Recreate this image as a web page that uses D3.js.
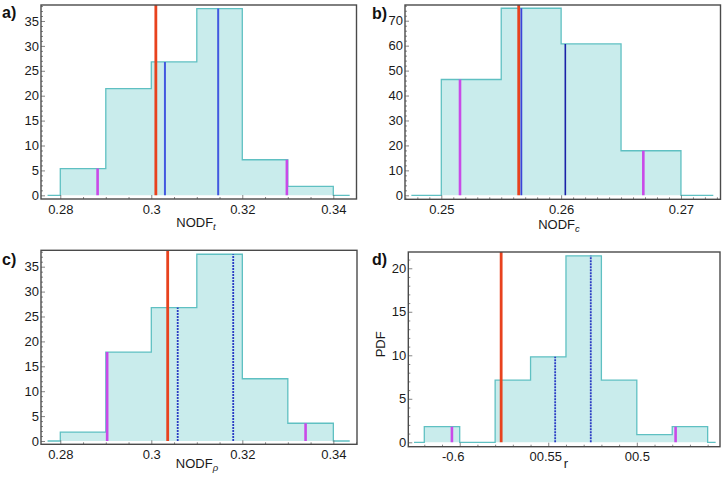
<!DOCTYPE html>
<html>
<head>
<meta charset="utf-8">
<script src="https://cdn.jsdelivr.net/npm/d3@7"></script>
<style>
  html, body { margin: 0; padding: 0; background: #fff; }
  svg { display: block; font-family: "Liberation Sans", Arial, Helvetica, sans-serif; }
</style>
</head>
<body>
<svg id="chart" width="728" height="482"></svg>
<script>
// ---------------- DATA ----------------
// a) NODF_t
const edgesA = [0.2772, 0.28, 0.29, 0.30, 0.31, 0.32, 0.33, 0.34, 0.3436];
const pdfA   = [0, 5.36, 21.43, 26.79, 37.5, 7.14, 1.79, 0];
const redA = 0.3010;
const blueA = [0.3030, 0.3147];
const magentaA = [0.2882, 0.3298];
const xTicksA = [0.28, 0.30, 0.32, 0.34];
const xLabelsA = ["0.28", "0.3", "0.32", "0.34"];
const yTicksA = [0, 5, 10, 15, 20, 25, 30, 35];

// b) NODF_c
const edgesB = [0.2475, 0.25, 0.255, 0.26, 0.265, 0.27, 0.2727];
const pdfB   = [0, 46.43, 75, 60.71, 17.86, 0];
const redB = 0.25646;
const blueB = [0.25668, 0.26035];
const magentaB = [0.25156, 0.26686];
const xTicksB = [0.25, 0.26, 0.27];
const xLabelsB = ["0.25", "0.26", "0.27"];
const yTicksB = [0, 10, 20, 30, 40, 50, 60, 70];

// c) NODF_rho
const edgesC = [0.2772, 0.28, 0.29, 0.30, 0.31, 0.32, 0.33, 0.34, 0.3436];
const pdfC   = [0, 1.79, 17.86, 26.79, 37.5, 12.5, 3.57, 0];
const redC = 0.3036;
const blueC = [0.3058, 0.3180];
const magentaC = [0.2903, 0.3339];
const xTicksC = [0.28, 0.30, 0.32, 0.34];
const xLabelsC = ["0.28", "0.3", "0.32", "0.34"];
const yTicksC = [0, 5, 10, 15, 20, 25, 30, 35];

// d) r
const edgesD = [-0.6258, -0.62, -0.60, -0.58, -0.56, -0.54, -0.52, -0.50, -0.48, -0.46, -0.4555];
const pdfD   = [0, 1.79, 0, 7.14, 9.82, 21.43, 7.14, 0.89, 1.79, 0];
const redD = -0.5766;
const blueD = [-0.5461, -0.5260];
const magentaD = [-0.6044, -0.4781];
const xTicksD = [-0.6, -0.55, -0.5];
const xLabelsD = ["-0.6", "00.55", "00.5"];
const yTicksD = [0, 5, 10, 15, 20];

// ---------------- LAYOUT ----------------
const panels = [
  { tag: "a)", edges: edgesA, pdf: pdfA, red: redA, blue: blueA, magenta: magentaA,
    xTicks: xTicksA, xLabels: xLabelsA, yTicks: yTicksA, xMinorStep: 0.005, yMinorStep: 1,
    box: [41, 5, 356.5, 199], xDom: [0.27576, 0.3451], yDom: [-0.74, 38.21],
    title: ["NODF", "t"], titleX: 196, titleY: 227, tagPos: [2, 18], xPad: 5.5, blueStyle: "a" },
  { tag: "b)", edges: edgesB, pdf: pdfB, red: redB, blue: blueB, magenta: magentaB,
    xTicks: xTicksB, xLabels: xLabelsB, yTicks: yTicksB, xMinorStep: 0.001, yMinorStep: 2,
    box: [405, 5, 720.5, 199.3], xDom: [0.24697, 0.2733], yDom: [-1.6, 76.3],
    title: ["NODF", "c"], titleX: 559, titleY: 228.5, tagPos: [372, 18.5], xPad: 5, blueStyle: "b" },
  { tag: "c)", edges: edgesC, pdf: pdfC, red: redC, blue: blueC, magenta: magentaC,
    xTicks: xTicksC, xLabels: xLabelsC, yTicks: yTicksC, xMinorStep: 0.005, yMinorStep: 1,
    box: [41, 250.3, 357, 444.3], xDom: [0.27576, 0.3452], yDom: [-0.66, 38.29],
    title: ["NODF", "ρ"], titleX: 197, titleY: 468, tagPos: [2, 265], xPad: 5.5, blueStyle: "c" },
  { tag: "d)", edges: edgesD, pdf: pdfD, red: redD, blue: blueD, magenta: magentaD,
    xTicks: xTicksD, xLabels: xLabelsD, yTicks: yTicksD, xMinorStep: 0.01, yMinorStep: 1,
    box: [408.3, 252, 720, 446.7], xDom: [-0.62903, -0.45303], yDom: [-0.506, 21.87],
    title: ["r", null], titleX: 566, titleY: 468, tagPos: [372, 265], xPad: 5, blueStyle: "c", yTitle: "PDF" }
];

const svg = d3.select("#chart");

const fillCol = "#c9ecec";
const edgeCol = "#5fc0c2";
const redCol = "#e8421e";
const magCol = "#c94ae8";

panels.forEach((p, pi) => {
  const [x0, y0, x1, y1] = p.box;
  const x = d3.scaleLinear().domain(p.xDom).range([x0, x1]);
  const y = d3.scaleLinear().domain(p.yDom).range([y1, y0]);
  const g = svg.append("g");

  const clipId = "clip" + pi;
  svg.append("clipPath").attr("id", clipId).append("rect")
    .attr("x", x0).attr("y", y0).attr("width", x1 - x0).attr("height", y1 - y0);

  const plot = g.append("g").attr("clip-path", `url(#${clipId})`);

  // step points
  const pts = p.pdf.map((v, i) => [p.edges[i], v]);
  pts.push([p.edges[p.edges.length - 1], p.pdf[p.pdf.length - 1]]);

  const area = d3.area().x(d => x(d[0])).y0(y(0)).y1(d => y(d[1])).curve(d3.curveStepAfter);
  const line = d3.line().x(d => x(d[0])).y(d => y(d[1])).curve(d3.curveStepAfter);

  plot.append("path").attr("d", area(pts)).attr("fill", fillCol).attr("stroke", "none");
  plot.append("path").attr("d", line(pts)).attr("fill", "none")
    .attr("stroke", edgeCol).attr("stroke-width", 1.3);

  const heightAt = v => {
    for (let i = 0; i < p.pdf.length; i++) {
      if (v >= p.edges[i] && v < p.edges[i + 1]) return p.pdf[i];
    }
    return 0;
  };

  // magenta lines
  p.magenta.forEach(v => {
    plot.append("line").attr("x1", x(v)).attr("x2", x(v))
      .attr("y1", y(0)).attr("y2", y(heightAt(v)))
      .attr("stroke", magCol).attr("stroke-width", 2.6);
  });
  // red line
  plot.append("line").attr("x1", x(p.red)).attr("x2", x(p.red))
    .attr("y1", y(0)).attr("y2", y0)
    .attr("stroke", redCol).attr("stroke-width", 2.8);
  // blue lines
  p.blue.forEach((v, bi) => {
    const l = plot.append("line").attr("x1", x(v)).attr("x2", x(v))
      .attr("y1", y(0)).attr("y2", y(heightAt(v)));
    if (p.blueStyle === "a") {
      l.attr("stroke", "#4259e0").attr("stroke-width", 2);
    } else if (p.blueStyle === "b") {
      l.attr("stroke", bi === 0 ? "#3a44d8" : "#1a22a8").attr("stroke-width", bi === 0 ? 1.8 : 1.6);
    } else {
      l.attr("stroke", "#2a3bc4").attr("stroke-width", 1.8).attr("stroke-dasharray", "2,1");
    }
  });

  // minor ticks
  const yMinor = d3.range(Math.ceil(p.yDom[0] / p.yMinorStep) * p.yMinorStep, p.yDom[1], p.yMinorStep)
    .filter(v => !p.yTicks.some(t => Math.abs(t - v) < 1e-9));
  const xMinor = d3.range(Math.ceil(p.xDom[0] / p.xMinorStep) * p.xMinorStep, p.xDom[1], p.xMinorStep)
    .filter(v => !p.xTicks.some(t => Math.abs(t - v) < 1e-9));

  const styleAxis = sel => {
    sel.select(".domain").remove();
    sel.selectAll(".tick line").attr("stroke", "#666").attr("stroke-width", 0.8);
    sel.selectAll("text").attr("fill", "#1a1a1a").attr("font-size", 13)
      .attr("font-family", '"Liberation Sans", Arial, sans-serif');
  };

  g.append("g").attr("transform", `translate(${x0},0)`)
    .call(d3.axisLeft(y).tickValues(yMinor).tickSize(-2).tickFormat(""))
    .call(styleAxis);
  g.append("g").attr("transform", `translate(0,${y1})`)
    .call(d3.axisBottom(x).tickValues(xMinor).tickSize(-2).tickFormat(""))
    .call(styleAxis);

  g.append("g").attr("transform", `translate(${x0},0)`)
    .call(d3.axisLeft(y).tickValues(p.yTicks).tickSize(-4).tickPadding(2).tickFormat(d3.format("d")))
    .call(styleAxis);
  const xa = g.append("g").attr("transform", `translate(0,${y1})`)
    .call(d3.axisBottom(x).tickValues(p.xTicks).tickSize(-4).tickPadding(p.xPad)
      .tickFormat((d, i) => p.xLabels[i]))
    .call(styleAxis);
  if (p.tag === "d)") {
    xa.selectAll(".tick text").filter((d, i) => i === 0).attr("dx", -7);
    xa.selectAll(".tick text").filter((d, i) => i === 1).attr("dx", -3);
  }

  // frame
  g.append("rect").attr("x", x0).attr("y", y0).attr("width", x1 - x0).attr("height", y1 - y0)
    .attr("fill", "none").attr("stroke", "#4a4a4a").attr("stroke-width", 1.4);

  // x title
  const t = g.append("text").attr("x", p.titleX).attr("y", p.titleY)
    .attr("text-anchor", "middle").attr("font-size", 13).attr("fill", "#1a1a1a");
  t.append("tspan").text(p.title[0]);
  if (p.title[1]) {
    t.append("tspan").attr("font-size", 9.5).attr("font-style", "italic").attr("dy", 3).text(p.title[1]);
  }

  if (p.yTitle) {
    g.append("text").attr("transform", `translate(${x0 - 23},${(y0 + y1) / 2 - 5}) rotate(-90)`)
      .attr("text-anchor", "middle").attr("font-size", 13).attr("fill", "#1a1a1a")
      .text(p.yTitle);
  }

  // panel tag
  g.append("text").attr("x", p.tagPos[0]).attr("y", p.tagPos[1])
    .attr("font-size", 16).attr("font-weight", "bold").attr("fill", "#111")
    .text(p.tag);
});
</script>
</body>
</html>
